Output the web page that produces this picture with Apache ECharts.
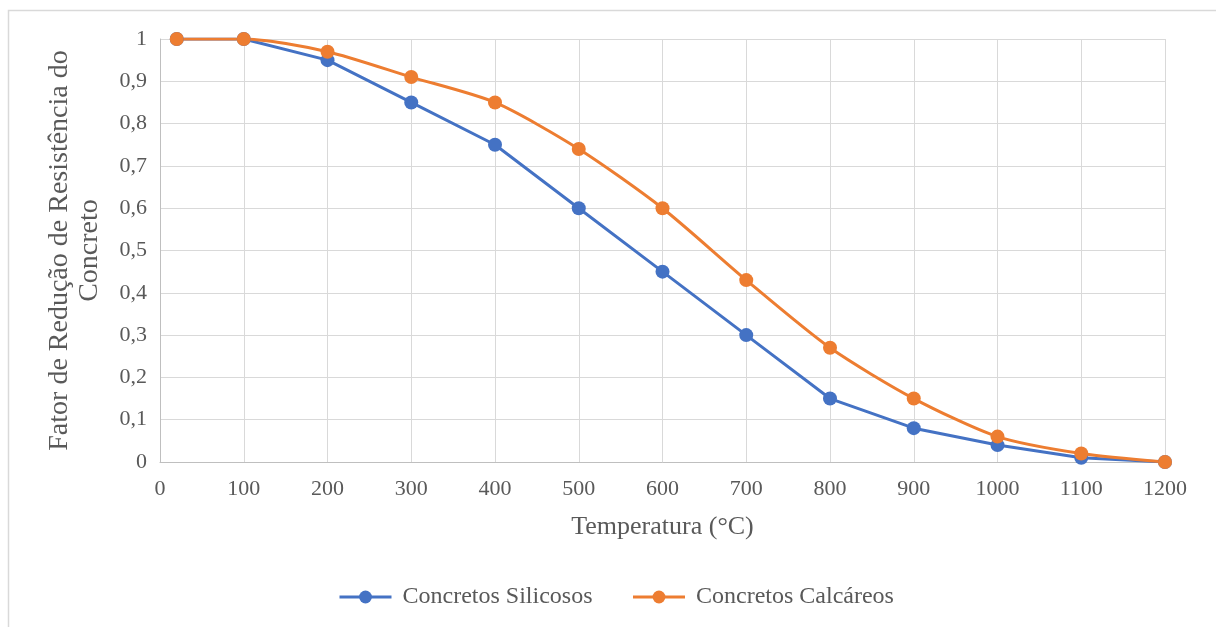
<!DOCTYPE html>
<html><head><meta charset="utf-8">
<script src="https://cdn.jsdelivr.net/npm/echarts@6/dist/echarts.min.js"></script>
<style>html,body{margin:0;padding:0;background:#fff}#c{width:1216px;height:627px}</style>
</head><body><div id="c"></div>
<script>
const temps = [20, 100, 200, 300, 400, 500, 600, 700, 800, 900, 1000, 1100, 1200];
const silicosos = [1, 1, 0.95, 0.85, 0.75, 0.6, 0.45, 0.3, 0.15, 0.08, 0.04, 0.01, 0];
const calcareos = [1, 1, 0.97, 0.91, 0.85, 0.74, 0.6, 0.43, 0.27, 0.15, 0.06, 0.02, 0];
const seriesNames = ['Concretos Silicosos', 'Concretos Calcáreos'];
const xTitle = 'Temperatura (°C)';
const yTitle = 'Fator de Redução de Resistência do\nConcreto';

const font = 'Liberation Serif';
const chart = echarts.init(document.getElementById('c'));
chart.setOption({
  animation: false,
  textStyle: {fontFamily: font},
  graphic: [{
    type: 'rect', shape: {x: 8.5, y: 10.5, width: 1300, height: 700},
    style: {fill: 'none', stroke: '#d9d9d9', lineWidth: 1.5}, silent: true
  }],
  grid: {left: 160, right: 51, top: 39, bottom: 165, containLabel: false},
  legend: {
    bottom: 13, left: 333, itemGap: 39, itemWidth: 52, itemHeight: 16,
    lineStyle: {width: 3},
    textStyle: {fontFamily: font, fontSize: 24, color: '#595959', padding: [0, 0, 0, 6]},
    data: seriesNames
  },
  xAxis: {
    type: 'value', min: 0, max: 1200, interval: 100,
    name: xTitle, nameLocation: 'middle', nameGap: 52,
    nameTextStyle: {fontFamily: font, fontSize: 26, color: '#595959'},
    axisLine: {show: true, lineStyle: {color: '#bfbfbf', width: 1}},
    axisTick: {show: false},
    axisLabel: {fontFamily: font, fontSize: 22, color: '#595959', margin: 16,
      formatter: v => String(v)},
    splitLine: {show: true, lineStyle: {color: '#d9d9d9', width: 1}}
  },
  yAxis: {
    type: 'value', min: 0, max: 1, interval: 0.1,
    name: yTitle, nameLocation: 'middle', nameGap: 55, nameRotate: 90,
    nameTextStyle: {fontFamily: font, fontSize: 28, color: '#595959', lineHeight: 30},
    axisLine: {show: true, lineStyle: {color: '#bfbfbf', width: 1}},
    axisTick: {show: false},
    axisLabel: {fontFamily: font, fontSize: 22, color: '#595959', margin: 13,
      formatter: v => String(Math.round(v * 10) / 10).replace('.', ',')},
    splitLine: {show: true, lineStyle: {color: '#d9d9d9', width: 1}}
  },
  series: [
    {name: seriesNames[0], type: 'line', data: temps.map((t, i) => [t, silicosos[i]]),
     symbol: 'circle', symbolSize: 14, color: '#4472C4',
     lineStyle: {width: 3, color: '#4472C4'}, itemStyle: {color: '#4472C4'}},
    {name: seriesNames[1], type: 'line', data: temps.map((t, i) => [t, calcareos[i]]),
     symbol: 'circle', symbolSize: 14, smooth: 0.25, color: '#ED7D31',
     lineStyle: {width: 3, color: '#ED7D31'}, itemStyle: {color: '#ED7D31'}}
  ]
});
</script></body></html>
